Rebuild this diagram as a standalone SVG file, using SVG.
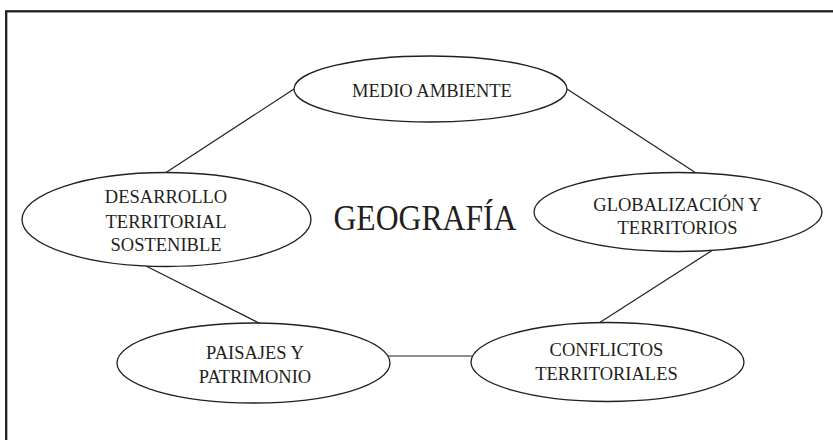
<svg xmlns="http://www.w3.org/2000/svg" width="833" height="440" viewBox="0 0 833 440">
<style>
.node ellipse{fill:#fff;stroke:#231f20;stroke-width:1.3}
.lbl{font-family:"Liberation Serif","Times New Roman",serif;font-size:18.5px;fill:#231f20;text-anchor:middle}
.conn line{stroke:#231f20;stroke-width:1.2}
.title{font-family:"Liberation Serif","Times New Roman",serif;font-size:36px;fill:#231f20;text-anchor:middle}
</style>
<rect x="0" y="0" width="833" height="440" fill="#fff"/>
<rect x="6.2" y="11.3" width="900" height="500" fill="none" stroke="#231f20" stroke-width="2.3"/>
<g id="connectors" class="conn">
<line x1="294" y1="89" x2="166" y2="172.5"/>
<line x1="567" y1="89" x2="696" y2="173"/>
<line x1="146" y1="266" x2="260" y2="323.5"/>
<line x1="712" y1="250.5" x2="599" y2="323"/>
<line x1="388" y1="356" x2="472.6" y2="356"/>
</g>
<g id="medio-ambiente" class="node">
<ellipse cx="430.5" cy="89" rx="136.5" ry="33"/>
<text class="lbl" x="432" y="97">MEDIO AMBIENTE</text>
</g>
<g id="desarrollo" class="node">
<ellipse cx="166.5" cy="219.5" rx="144.5" ry="47"/>
<text class="lbl" x="166" y="203.3">DESARROLLO</text>
<text class="lbl" x="166" y="227.7">TERRITORIAL</text>
<text class="lbl" x="166" y="251">SOSTENIBLE</text>
</g>
<g id="globalizacion" class="node">
<ellipse cx="678" cy="212" rx="144" ry="39.5"/>
<text class="lbl" x="677.5" y="210.7">GLOBALIZACIÓN Y</text>
<text class="lbl" x="677.5" y="234.3">TERRITORIOS</text>
</g>
<g id="paisajes" class="node">
<ellipse cx="253.5" cy="363" rx="136.5" ry="40"/>
<text class="lbl" x="255" y="359.3">PAISAJES Y</text>
<text class="lbl" x="255" y="383.3">PATRIMONIO</text>
</g>
<g id="conflictos" class="node">
<ellipse cx="607.5" cy="362" rx="136.5" ry="39.5"/>
<text class="lbl" x="606.5" y="356">CONFLICTOS</text>
<text class="lbl" x="606.5" y="380">TERRITORIALES</text>
</g>
<g id="geografia">
<text class="title" x="425" y="230" textLength="183" lengthAdjust="spacingAndGlyphs">GEOGRAFÍA</text>
</g>
</svg>
